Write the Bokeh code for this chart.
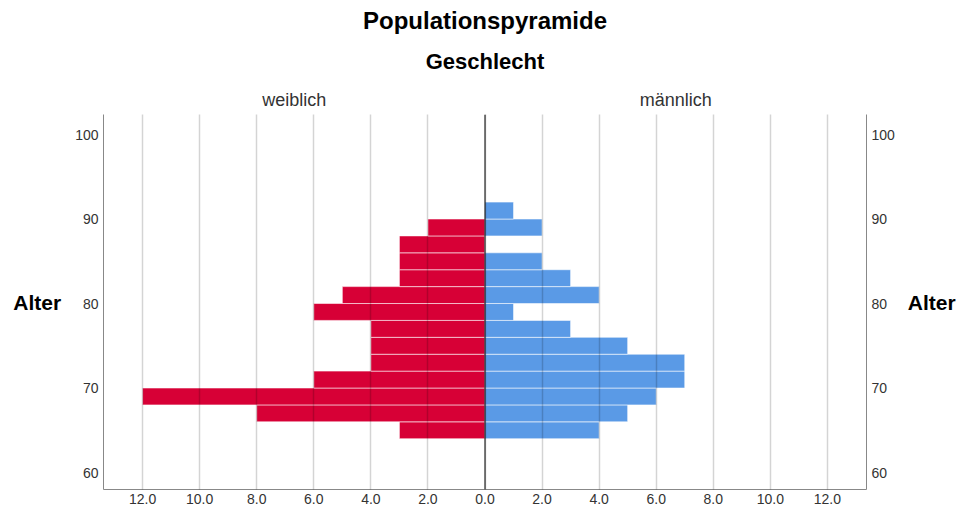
from bokeh.plotting import figure
from bokeh.models import (Range1d, LinearAxis, FixedTicker, CustomJSTickFormatter,
                          Title, Span, ColumnDataSource)
from bokeh.embed import file_html
from bokeh.resources import INLINE

# ---- data (age bins of 2 years, lower bound) ----
age_bins = [64, 66, 68, 70, 72, 74, 76, 78, 80, 82, 84, 86, 88, 90]
female = [3, 8, 12, 6, 4, 4, 4, 6, 5, 3, 3, 3, 2, 0]
male = [4, 5, 6, 7, 7, 5, 3, 1, 4, 3, 2, 0, 2, 1]
x_ticks = [-12, -10, -8, -6, -4, -2, 0, 2, 4, 6, 8, 10, 12]
y_ticks = [60, 70, 80, 90, 100]
title_text = "Populationspyramide"
subtitle_text = "Geschlecht"
panel_labels = ["weiblich", "männlich"]
axis_title = "Alter"

bin_width = 2
src_f = ColumnDataSource(dict(
    y=[a + bin_width / 2 for a in age_bins],
    left=[-v for v in female],
    right=[0] * len(female),
))
src_m = ColumnDataSource(dict(
    y=[a + bin_width / 2 for a in age_bins],
    left=[0] * len(male),
    right=male,
))

FONT = "Liberation Sans"
RED = "#D70036"
BLUE = "#5A9AE6"

p = figure(width=961, height=510, output_backend="svg", toolbar_location=None,
           x_range=Range1d(-13.37, 13.37), y_range=Range1d(57.99, 102.37),
           x_axis_location=None, y_axis_location=None, title=None,
           min_border_left=103, min_border_right=95, min_border_top=114,
           min_border_bottom=21)
p.outline_line_color = None
p.background_fill_color = "white"
p.border_fill_color = "white"

p.hbar(y="y", left="left", right="right", height=bin_width, source=src_f,
       fill_color=RED, line_color="white", line_alpha=0.55, line_width=1)
p.hbar(y="y", left="left", right="right", height=bin_width, source=src_m,
       fill_color=BLUE, line_color="white", line_alpha=0.55, line_width=1)

# grid
p.ygrid.visible = False
p.xgrid.ticker = FixedTicker(ticks=x_ticks)
p.xgrid.grid_line_color = "black"
p.xgrid.grid_line_alpha = 0.17
p.xgrid.grid_line_width = 1.5
p.xgrid.level = "overlay"

p.add_layout(Span(location=0, dimension="height", line_color="black",
                  line_width=1, level="overlay"))


def clean(ax):
    ax.major_tick_line_color = None
    ax.minor_tick_line_color = None
    ax.major_tick_out = 0
    ax.major_tick_in = 0
    ax.minor_tick_out = 0
    ax.minor_tick_in = 0


# bottom axis
xb = LinearAxis(ticker=FixedTicker(ticks=x_ticks),
                formatter=CustomJSTickFormatter(code="return Math.abs(tick).toFixed(1);"))
clean(xb)
xb.axis_line_color = "#888888"
xb.major_label_standoff = 4
xb.major_label_text_font = FONT
xb.major_label_text_font_size = "14px"
xb.major_label_text_color = "#333333"
p.add_layout(xb, "below")

# left / right axes
for side, standoff in (("left", 11), ("right", 10)):
    ax = LinearAxis(ticker=FixedTicker(ticks=y_ticks), axis_label=axis_title)
    clean(ax)
    ax.axis_line_color = "#888888"
    ax.major_label_standoff = 5
    ax.major_label_text_font = FONT
    ax.major_label_text_font_size = "14px"
    ax.major_label_text_color = "#333333"
    ax.axis_label_orientation = "horizontal"
    ax.axis_label_standoff = standoff
    ax.axis_label_text_font = FONT
    ax.axis_label_text_font_size = "21px"
    ax.axis_label_text_font_style = "bold"
    ax.axis_label_text_color = "black"
    p.add_layout(ax, side)

# top axis carrying panel labels
xt = LinearAxis(ticker=FixedTicker(ticks=[-6.685, 6.685]),
                formatter=CustomJSTickFormatter(
                    args=dict(l=panel_labels[0], r=panel_labels[1]),
                    code="return tick < 0 ? l : r;"))
clean(xt)
xt.axis_line_color = None
xt.major_label_standoff = 5
xt.major_label_text_font = FONT
xt.major_label_text_font_size = "18px"
xt.major_label_text_color = "#333333"
p.add_layout(xt, "above")

p.add_layout(Title(text=subtitle_text, align="center", text_font=FONT,
                   text_font_size="22px", text_font_style="bold",
                   text_color="black", standoff=25), "above")
p.add_layout(Title(text=title_text, align="center", text_font=FONT,
                   text_font_size="24px", text_font_style="bold",
                   text_color="black", standoff=1), "above")

open("out.html", "w").write(file_html(p, INLINE))
